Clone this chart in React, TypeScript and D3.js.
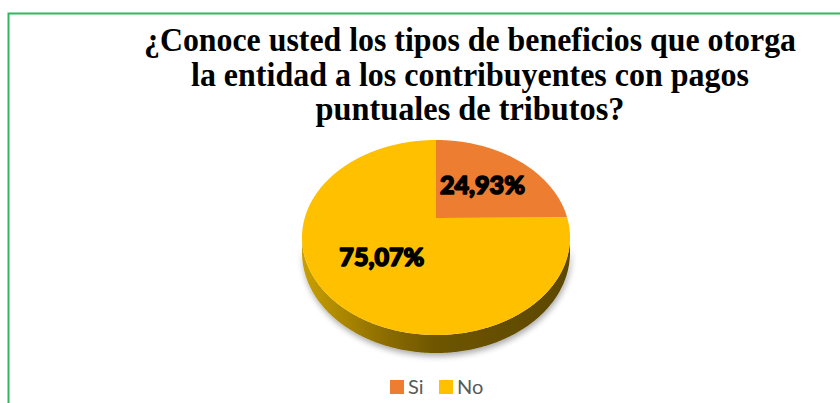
import React from 'react';
import * as d3 from 'd3';

const categories = ['Si', 'No'];
const values = [24.93, 75.07];
const labels = ['24,93%', '75,07%'];
const colors = ['#ED7D31', '#FFC000'];
const titleLines = [
  '¿Conoce usted los tipos de beneficios que otorga',
  'la entidad a los contribuyentes con pagos',
  'puntuales de tributos?',
];
const titleWidths = [652, 558, 309];

export default function App() {
  const W = 840, H = 403;
  const cx = 436, cy = 218, a = 131.3, b = 93.6, k = 0.2, depth = 14.4;

  const proj = (theta: number, f = 1, z = 0): [number, number] => {
    const u = f * Math.sin(theta), v = f * Math.cos(theta);
    const s = 1 / (1 + k * v);
    return [cx + a * u * s, cy - b * v * s + depth * z * s];
  };

  const pie = d3.pie<number>().sort(null).startAngle(0).endAngle(2 * Math.PI)(values);
  const line = d3.line();
  const arcPts = (t0: number, t1: number, z: number) => {
    const n = Math.max(2, Math.ceil(Math.abs(t1 - t0) / 0.01));
    return d3.range(n + 1).map((i) => proj(t0 + ((t1 - t0) * i) / n, 1, z));
  };

  const th1 = Math.acos(-k);
  const th2 = 2 * Math.PI - th1;
  const sidePts = [...arcPts(th1, th2, 0), ...arcPts(th1, th2, 1).reverse()];
  const sidePath = line(sidePts) + 'Z';

  const legendX = d3.scaleOrdinal<string, number>().domain(categories).range([390, 439]);

  return (
    <svg width={W} height={H} style={{ position: 'absolute', left: 0, top: 0 }}>
      <defs>
        <linearGradient id="sideGrad" x1="0" y1="0" x2="1" y2="0">
          <stop offset="0" stopColor="#c9a000" />
          <stop offset="0.3" stopColor="#8e6e00" />
          <stop offset="0.5" stopColor="#6e5500" />
          <stop offset="1" stopColor="#5c4700" />
        </linearGradient>
        <filter id="shadow" x="-20%" y="-50%" width="140%" height="200%">
          <feGaussianBlur in="SourceAlpha" stdDeviation="3" />
          <feOffset dx="1" dy="3" result="ob" />
          <feComponentTransfer>
            <feFuncA type="linear" slope="0.35" />
          </feComponentTransfer>
          <feMerge>
            <feMergeNode />
            <feMergeNode in="SourceGraphic" />
          </feMerge>
        </filter>
      </defs>
      <rect x={0} y={0} width={W} height={H} fill="#ffffff" />
      <path d={`M8.5 ${H} V13.5 H${W}`} fill="none" stroke="#2fb85c" strokeWidth={2} />

      {titleLines.map((t, i) => (
        <text
          key={i}
          x={470}
          y={51 + i * 34.5}
          textAnchor="middle"
          style={{ fontFamily: "'Liberation Serif', 'Times New Roman', Times, serif", fontWeight: 700, fontSize: '34px' }}
          fill="#000"
          textLength={titleWidths[i]}
          lengthAdjust="spacingAndGlyphs"
        >
          {t}
        </text>
      ))}

      <path d={sidePath} fill="url(#sideGrad)" filter="url(#shadow)" />

      {pie.map((p, i) => {
        const pts = [[cx, cy] as [number, number], ...arcPts(p.startAngle, p.endAngle, 0)];
        return <path key={i} d={line(pts) + 'Z'} fill={colors[i]} />;
      })}

      {pie.map((p, i) => {
        const [lx, ly] = proj((p.startAngle + p.endAngle) / 2, 0.54, 0);
        return (
          <text
            key={'l' + i}
            x={lx}
            y={ly + 9}
            textAnchor="middle"
            fontFamily="Lato, 'Open Sans', sans-serif"
            fontWeight={900}
            fontSize={25}
            fill="#000"
            stroke="#000"
            strokeWidth={1.6}
            strokeLinejoin="round"
            textLength={85}
            lengthAdjust="spacingAndGlyphs"
          >
            {labels[i]}
          </text>
        );
      })}

      {categories.map((c, i) => (
        <g key={'g' + i}>
          <rect x={legendX(c)} y={380} width={14} height={14} fill={colors[i]} />
          <text
            x={legendX(c) + 18}
            y={394}
            fontFamily="Lato, 'Open Sans', sans-serif"
            fontSize={20}
            fill="#595959"
          >
            {c}
          </text>
        </g>
      ))}
    </svg>
  );
}
